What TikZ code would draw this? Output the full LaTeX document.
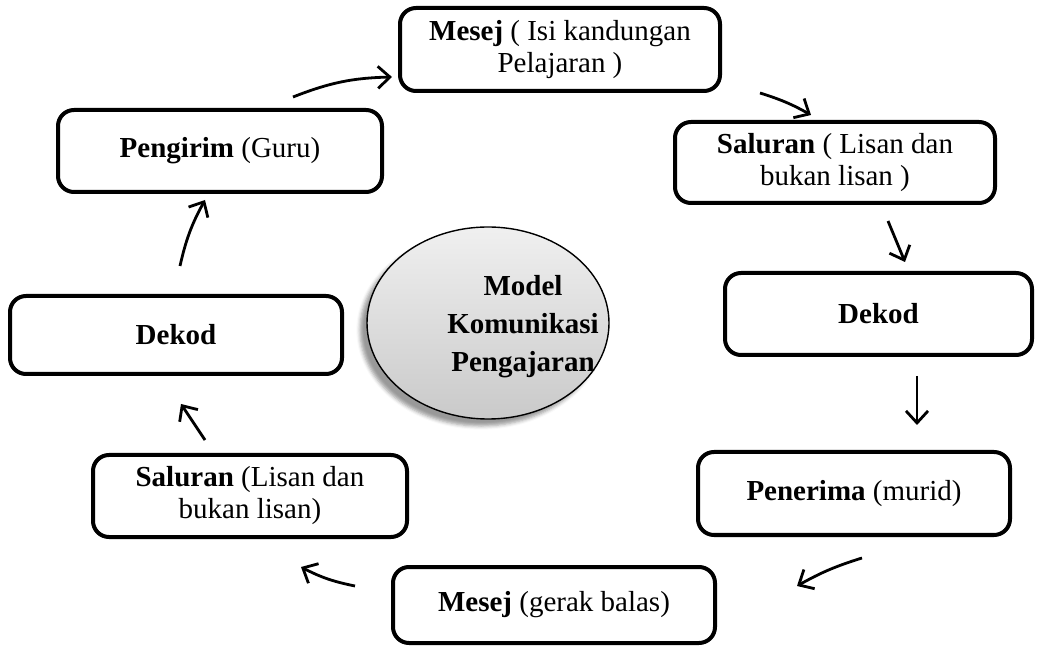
\documentclass[tikz,border=0pt]{standalone}
\usepackage{fontspec}
\setmainfont{Liberation Serif}
\usetikzlibrary{calc, shapes.geometric, shadows.blur, arrows.meta}

\begin{document}
\begin{tikzpicture}[x=0.5pt, y=-0.5pt]
			\tikzset{
				box/.style = {draw, line width=2pt, rounded corners=8pt, align=center, inner sep=0pt,
					font=\fontsize{14.5}{16}\selectfont},
				arr/.style = {-{Straight Barb[length=6pt, width=11pt]}, line width=1.4pt}
			}
			\useasboundingbox (0,0) rectangle (1039,646);
			
			% the eight steps
			\node [box, minimum width=160pt, minimum height=41.5pt] (mesejA) at (560,49.5)
				{\textbf{Mesej} ( Isi kandungan\\ Pelajaran )};
			\node [box, minimum width=162pt, minimum height=41pt] (pengirim) at (220,151)
				{\textbf{Pengirim} (Guru)};
			\node [box, minimum width=160pt, minimum height=40.5pt] (saluranA) at (835,162.5)
				{\textbf{Saluran} ( Lisan dan\\ bukan lisan )};
			\node [box, minimum width=153.5pt, minimum height=41pt] (dekodA) at (878.5,314)
				{\textbf{Dekod}};
			\node [box, minimum width=166pt, minimum height=39pt] (dekodB) at (176,335)
				{\textbf{Dekod}};
			\node [box, minimum width=157pt, minimum height=41pt] (saluranB) at (250,496)
				{\textbf{Saluran} (Lisan dan\\ bukan lisan)};
			\node [box, minimum width=156pt, minimum height=41.5pt] (penerima) at (854,493.5)
				{\textbf{Penerima} (murid)};
			\node [box, minimum width=161pt, minimum height=38pt] (mesejB) at (554,605)
				{\textbf{Mesej} (gerak balas)};
			
			% centre
			\node [ellipse, draw, line width=0.7pt, minimum width=121pt, minimum height=96pt,
				top color=gray!12, bottom color=gray!42,
				blur shadow={shadow xshift=-3.5pt, shadow yshift=-3.5pt, shadow opacity=40}] (model) at (488,323) {};
			\node [align=center, font=\fontsize{14.5}{19}\selectfont\bfseries] (modeltext) at ($(model.center)+(35,4)$)
				{Model\\ Komunikasi\\ Pengajaran};
			
			% arrow ends
			\coordinate (a1) at (293,97);   \coordinate (b1) at (392,77);
			\coordinate (a2) at (760,93);   \coordinate (b2) at (811,115);
			\coordinate (a3) at (888,221);  \coordinate (b3) at (905,262);
			\coordinate (a4) at (917,376);  \coordinate (b4) at (917,425);
			\coordinate (a5) at (862,558);  \coordinate (b5) at (797,586);
			\coordinate (a6) at (355,586);  \coordinate (b6) at (301,567);
			\coordinate (a7) at (205,440);  \coordinate (b7) at (181,404);
			\coordinate (a8) at (180,266);  \coordinate (b8) at (205,200);
			
			\begin{scope}[arr]
				\draw (a1) to [bend left=10] (b1);
				\draw (a2) to [bend left=6] (b2);
				\draw (a3) -- (b3);
				\draw (a4) -- (b4);
				\draw (a5) to [bend right=6] (b5);
				\draw (a6) to [bend left=8] (b6);
				\draw (a7) -- (b7);
				\draw (a8) to [bend left=8] (b8);
			\end{scope}
		\end{tikzpicture}
\end{document}
